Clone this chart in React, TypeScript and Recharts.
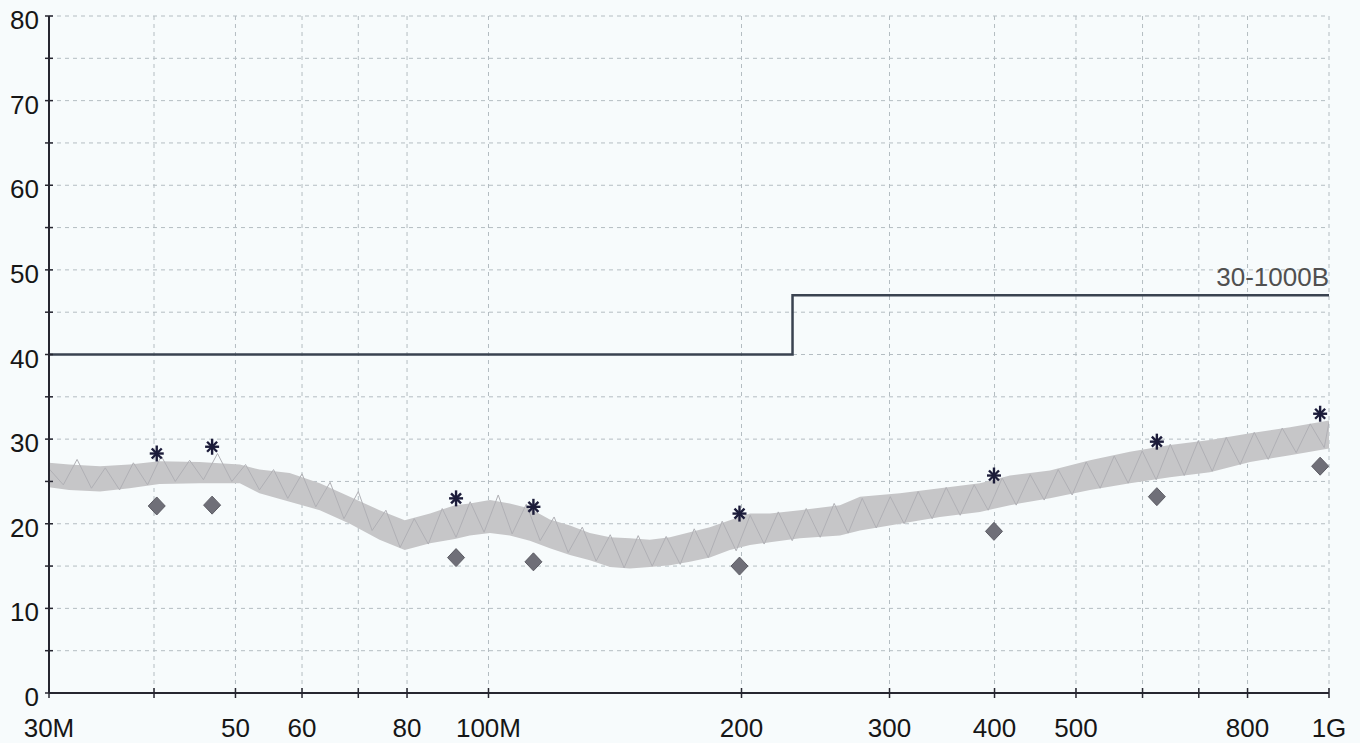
import React from 'react';
import { ComposedChart, XAxis, YAxis, CartesianGrid, Area, Line, Scatter } from 'recharts';

// Noise floor band (MHz, dBuV/m)
const bandFreq = [30, 31.7, 34.5, 37.4, 40.6, 45.3, 50.6, 53.4, 58, 63, 68.4, 74.2, 79.5, 85.2, 91.2, 95, 100.4, 106, 112, 118.3, 125, 132, 139.5, 147.3, 155.6, 164.4, 173.6, 183.4, 193.7, 204.7, 216.2, 234.7, 261.9, 276.7, 308.7, 344.4, 384.3, 417.3, 465.6, 519.6, 579.6, 646.8, 721.8, 805.5, 898.8, 1000];
const bandLow = [24.3, 24.0, 23.8, 24.2, 24.7, 24.8, 24.8, 23.6, 22.6, 21.6, 20.0, 18.1, 16.9, 17.7, 18.2, 18.6, 18.9, 18.6, 18.0, 17.1, 16.3, 15.7, 14.9, 14.7, 14.9, 15.1, 15.5, 16.0, 16.9, 17.5, 17.8, 18.3, 18.6, 19.2, 20.0, 20.8, 21.4, 22.2, 23.0, 24.0, 24.8, 25.5, 26.1, 27.3, 28.1, 28.9];
const bandHigh = [27.2, 27.0, 26.8, 27.0, 27.4, 27.3, 27.0, 26.4, 26.0, 24.8, 23.2, 21.6, 20.4, 21.2, 22.2, 22.4, 22.8, 22.4, 21.8, 20.5, 19.8, 18.9, 18.4, 18.3, 18.1, 18.4, 19.0, 19.6, 20.4, 21.2, 21.2, 21.6, 22.2, 23.2, 23.6, 24.2, 24.8, 25.7, 26.3, 27.5, 28.5, 29.3, 29.9, 30.7, 31.4, 32.2];

// Swept trace (peak detector)
const traceFreq = [30, 31.2, 32.4, 33.7, 35, 36.4, 37.8, 39.3, 40.8, 42.4, 44.1, 45.8, 47.6, 49.5, 51.4, 53.4, 55.5, 57.7, 60, 62.3, 64.8, 67.3, 70, 72.7, 75.5, 78.5, 81.6, 84.8, 88.1, 91.5, 95.1, 98.8, 102.7, 106.7, 110.9, 115.2, 119.7, 124.4, 129.3, 134.3, 139.6, 145, 150.7, 156.6, 162.7, 169.1, 175.7, 182.6, 189.7, 197.1, 204.8, 212.8, 221.2, 229.8, 238.8, 248.1, 257.8, 267.9, 278.4, 289.3, 300.6, 312.3, 324.5, 337.2, 350.4, 364.1, 378.3, 393.1, 408.5, 424.5, 441.1, 458.3, 476.2, 494.8, 514.2, 534.3, 555.2, 576.9, 599.5, 622.9, 647.3, 672.6, 698.9, 726.2, 754.6, 784.1, 814.8, 846.6, 879.7, 914.1, 949.8, 987, 1000];
const traceLevel = [26.5, 24.6, 27.6, 24.2, 26.6, 24.0, 27.2, 24.6, 28.0, 25.0, 27.5, 25.2, 28.3, 25.0, 27.0, 24.0, 26.4, 23.0, 25.9, 22.0, 24.9, 20.6, 23.8, 19.2, 21.6, 17.2, 20.6, 17.6, 21.8, 18.4, 22.6, 19.0, 23.4, 18.8, 22.3, 18.0, 20.8, 16.6, 19.6, 15.6, 18.7, 14.8, 18.6, 15.0, 18.5, 15.2, 19.4, 16.0, 20.3, 16.8, 21.0, 17.6, 21.4, 18.0, 21.8, 18.4, 22.4, 18.9, 23.0, 19.5, 23.2, 20.0, 23.8, 20.6, 24.3, 21.0, 24.6, 21.6, 25.4, 22.2, 25.8, 22.8, 26.4, 23.4, 27.3, 24.2, 28.0, 24.8, 28.6, 25.2, 29.4, 25.7, 29.8, 26.2, 30.2, 27.0, 30.8, 27.6, 31.3, 28.4, 31.8, 29.0, 32.0];

// Final measurement markers
const markerFreq = [40.3, 46.9, 91.5, 113.1, 198.9, 399.4, 624, 976];
const peakLevel = [28.3, 29.1, 23.0, 22.0, 21.2, 25.7, 29.7, 33.0];
const avgLevel = [22.1, 22.2, 16.0, 15.5, 15.0, 19.1, 23.2, 26.8];

// Limit line
const limitFreq = [30, 230, 230, 1000];
const limitLevel = [40, 40, 47, 47];
const limitName = '30-1000B';

const xTicks = [30, 40, 50, 60, 70, 80, 100, 200, 300, 400, 500, 600, 700, 800, 1000];
const xTickLabels = ['30M', '', '50', '60', '', '80', '100M', '200', '300', '400', '500', '', '', '800', '1G'];
const yTicks = [0, 5, 10, 15, 20, 25, 30, 35, 40, 45, 50, 55, 60, 65, 70, 75, 80];

const FONT = '"Liberation Sans", Arial, sans-serif';
const AXIS = '#262630';

const bandData = bandFreq.map((f, i) => ({ f, range: [bandLow[i], bandHigh[i]] }));
const traceData = traceFreq.map((f, i) => ({ f, v: traceLevel[i] }));
const peakData = markerFreq.map((f, i) => ({ f, v: peakLevel[i] }));
const avgData = markerFreq.map((f, i) => ({ f, v: avgLevel[i] }));
const limitData = limitFreq.map((f, i) => ({ f, v: limitLevel[i] }));
const labelData = [{ f: limitFreq[limitFreq.length - 1], v: limitLevel[limitLevel.length - 1] }];

const XTick = (props: any) => {
  const { x, y, payload } = props;
  const i = xTicks.indexOf(payload.value);
  const label = i >= 0 ? xTickLabels[i] : '';
  return (
    <g>
      <line x1={x} x2={x} y1={y - 5} y2={y + 5} stroke={AXIS} strokeWidth={1.5} />
      <text x={x} y={y + 44} textAnchor="middle" fontSize={26} fill="#161616" fontFamily={FONT}>{label}</text>
    </g>
  );
};

const YTick = (props: any) => {
  const { x, y, payload } = props;
  const label = payload.value % 10 === 0 ? String(payload.value) : '';
  return (
    <g>
      <line x1={x - 4} x2={x + 4} y1={y} y2={y} stroke={AXIS} strokeWidth={1.5} />
      <text x={x - 10} y={y + 13} textAnchor="end" fontSize={26} fill="#161616" fontFamily={FONT}>{label}</text>
    </g>
  );
};

const Asterisk = (props: any) => {
  const { cx, cy } = props;
  if (cx == null || cy == null) return <g />;
  const c = '#1c1c3a';
  return (
    <g stroke={c} strokeWidth={2.4}>
      <line x1={cx} x2={cx} y1={cy - 8} y2={cy + 8} />
      <line x1={cx - 7} x2={cx + 7} y1={cy} y2={cy} />
      <line x1={cx - 5} x2={cx + 5} y1={cy - 5} y2={cy + 5} />
      <line x1={cx - 5} x2={cx + 5} y1={cy + 5} y2={cy - 5} />
    </g>
  );
};

const Diamond = (props: any) => {
  const { cx, cy } = props;
  if (cx == null || cy == null) return <g />;
  return (
    <polygon
      points={`${cx},${cy - 9} ${cx + 8.5},${cy} ${cx},${cy + 9} ${cx - 8.5},${cy}`}
      fill="#6f6f78"
      stroke="#5c5c64"
      strokeWidth={1}
    />
  );
};

const LimitLabel = (props: any) => {
  const { cx, cy } = props;
  if (cx == null || cy == null) return <g />;
  return (
    <text x={cx} y={cy - 9} textAnchor="end" fontSize={26} fill="#505050" fontFamily={FONT}>{limitName}</text>
  );
};

export default function App() {
  return (
    <div style={{ position: 'absolute', left: 0, top: 0, width: 1360, height: 743, background: '#f7fbfc' }}>
      <ComposedChart width={1360} height={743} margin={{ top: 16, right: 31, left: 0, bottom: 0 }}>
        <CartesianGrid stroke="#b4bdc2" strokeDasharray="4 4" strokeWidth={1} />
        <XAxis
          dataKey="f"
          type="number"
          scale="log"
          domain={[30, 1000]}
          ticks={xTicks}
          allowDataOverflow
          height={50}
          tickSize={0}
          tickMargin={0}
          tickLine={false}
          tick={<XTick />}
          interval={0}
          axisLine={{ stroke: AXIS, strokeWidth: 2 }}
        />
        <YAxis
          type="number"
          domain={[0, 80]}
          ticks={yTicks}
          width={49}
          tickSize={0}
          tickMargin={0}
          tickLine={false}
          tick={<YTick />}
          interval={0}
          axisLine={{ stroke: AXIS, strokeWidth: 2 }}
        />
        <Area
          data={bandData}
          dataKey="range"
          type="linear"
          stroke="none"
          fill="#c6c6c8"
          fillOpacity={1}
          isAnimationActive={false}
        />
        <Line
          data={traceData}
          dataKey="v"
          type="linear"
          stroke="#b0b0b5"
          strokeWidth={1}
          dot={false}
          isAnimationActive={false}
        />
        <Line
          data={limitData}
          dataKey="v"
          type="linear"
          stroke="#3a4350"
          strokeWidth={2.5}
          dot={false}
          isAnimationActive={false}
        />
        <Scatter data={avgData} dataKey="v" shape={<Diamond />} isAnimationActive={false} />
        <Scatter data={peakData} dataKey="v" shape={<Asterisk />} isAnimationActive={false} />
        <Scatter data={labelData} dataKey="v" shape={<LimitLabel />} isAnimationActive={false} />
      </ComposedChart>
    </div>
  );
}
